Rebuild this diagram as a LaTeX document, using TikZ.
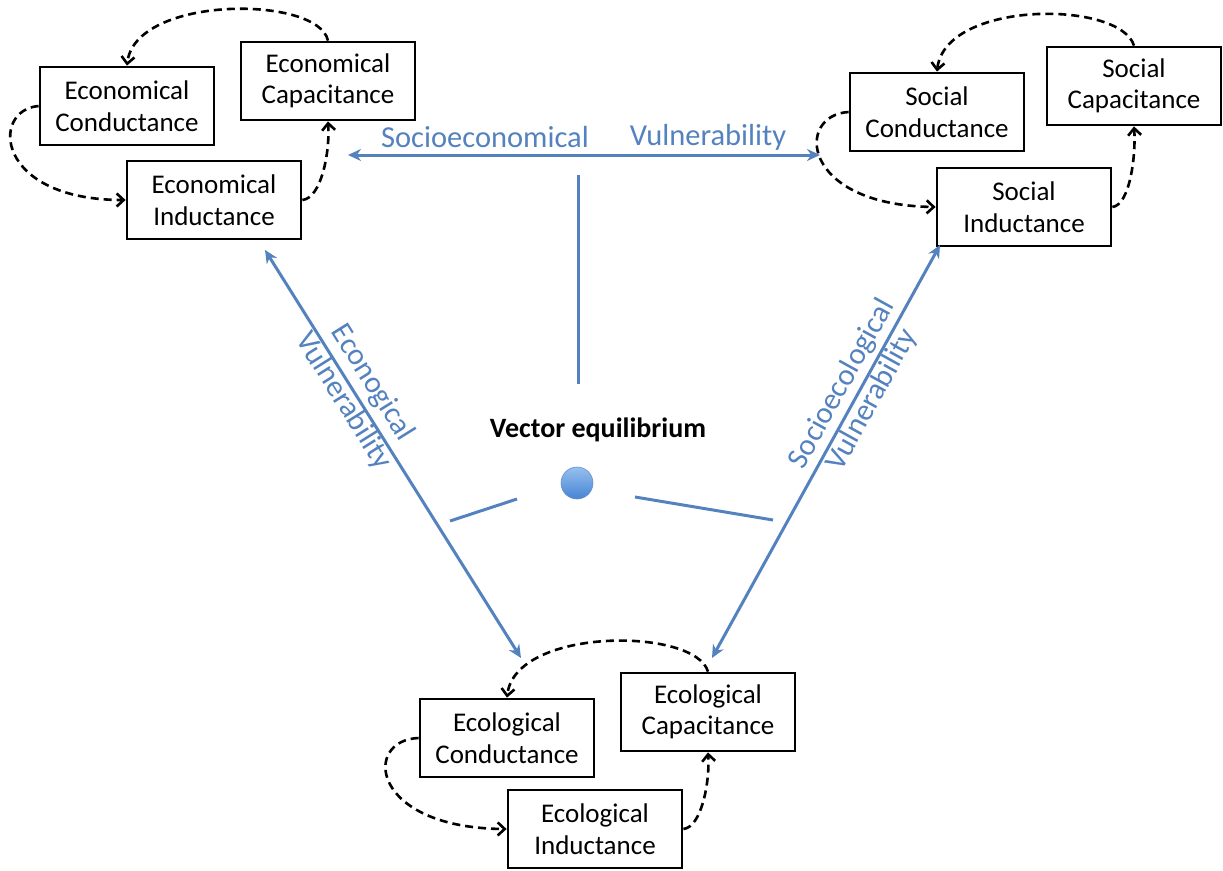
\documentclass[tikz,border=0pt]{standalone}
\usepackage{fontspec}
\setmainfont{Carlito}
\usetikzlibrary{arrows.meta}
\definecolor{vblue}{RGB}{84,130,190}
\definecolor{ballhi}{RGB}{150,192,238}
\definecolor{balllo}{RGB}{70,132,212}
\definecolor{ballrim}{RGB}{105,145,200}
\tikzset{
  box/.style={draw=black, line width=2.8pt, minimum width=174pt, minimum height=78pt,
    align=center, inner sep=0pt, font=\fontsize{27}{31.5}\selectfont},
  loop/.style={draw=black, line width=2.6pt, dash pattern=on 8pt off 5pt,
    -{Straight Barb[length=7pt,width=13pt,line width=2.6pt]}},
  vuln/.style={draw=vblue, line width=3pt,
    {Stealth[length=13pt,width=12pt]}-{Stealth[length=13pt,width=12pt]}},
  vline/.style={draw=vblue, line width=3pt},
  vlabel/.style={text=vblue, font=\fontsize{30.5}{34}\selectfont, align=center, inner sep=0pt},
}
\begin{document}
\begin{tikzpicture}[x=1pt,y=1pt]
\useasboundingbox (0,0) rectangle (1223,-870);
% Economical cluster
\node[box] (EcC) at (127,-106) {Economical\\Conductance};
\node[box] (EcP) at (328,-81) {Economical\\Capacitance};
\node[box] (EcI) at (214,-200) {Economical\\Inductance};
% Social cluster
\node[box] (SoC) at (937,-112) {Social\\Conductance};
\node[box] (SoP) at (1134,-86) {Social\\Capacitance};
\node[box] (SoI) at (1024,-207) {Social\\Inductance};
% Ecological cluster
\node[box] (ElC) at (507,-738) {Ecological\\Conductance};
\node[box] (ElP) at (708,-712) {Ecological\\Capacitance};
\node[box] (ElI) at (595,-829) {Ecological\\Inductance};
% dashed loops
\draw[loop] (EcP.north) .. controls (318,5) and (135,5) .. (EcC.north);
\draw[loop] (EcC.west) .. controls (-10,-110) and (-5,-200) .. (EcI.west);
\draw[loop] (EcI.east) .. controls (322,-198) and (330,-150) .. (EcP.south);
\draw[loop] (SoP.north) .. controls (1120,0) and (945,0) .. (SoC.north);
\draw[loop] (SoC.west) .. controls (795,-115) and (800,-205) .. (SoI.west);
\draw[loop] (SoI.east) .. controls (1130,-205) and (1136,-155) .. (SoP.south);
\draw[loop] (ElP.north) .. controls (695,-627) and (515,-627) .. (ElC.north);
\draw[loop] (ElC.west) .. controls (362,-740) and (370,-828) .. (ElI.west);
\draw[loop] (ElI.east) .. controls (702,-827) and (710,-780) .. (ElP.south);
% vulnerability arrows
\coordinate (hL) at (348,-155);
\coordinate (hR) at (820,-155);
\coordinate (lT) at (265,-250);
\coordinate (lB) at (521,-658);
\coordinate (rB) at (712,-658);
\coordinate (rT) at (940,-245);
\draw[vuln] (hL) -- (hR);
\draw[vuln] (lT) -- (lB);
\draw[vuln] (rB) -- (rT);
\node[vlabel] (lab1) at (485,-137) {Socioeconomical};
\node[vlabel] (lab2) at (708,-137) {Vulnerability};
\node[vlabel, rotate=-57.9] (lab3) at (358,-392) {Econogical\\Vulnerability};
\node[vlabel, rotate=61.1] (lab4) at (857,-392) {Socioecological\\Vulnerability};
% vector equilibrium
\coordinate (vT) at (578,-175);
\coordinate (vB) at (578,-384);
\coordinate (aL1) at (450,-521);
\coordinate (aL2) at (517,-499);
\coordinate (aR1) at (635,-497);
\coordinate (aR2) at (773,-520);
\draw[vline] (vT) -- (vB);
\draw[vline] (aL1) -- (aL2);
\draw[vline] (aR1) -- (aR2);
\node[font=\fontsize{28}{32}\selectfont\bfseries, inner sep=0pt] (ve) at (598,-430) {Vector equilibrium};
\node[circle, minimum size=32pt, inner sep=0pt, draw=ballrim, line width=0.6pt,
  top color=ballhi, bottom color=balllo] (ball) at (577,-483) {};
\end{tikzpicture}
\end{document}
